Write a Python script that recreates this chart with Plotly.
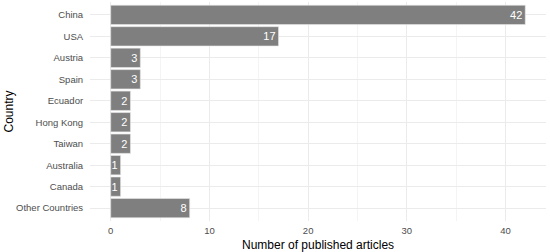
import plotly.graph_objects as go

countries = ["China", "USA", "Austria", "Spain", "Ecuador", "Hong Kong",
             "Taiwan", "Australia", "Canada", "Other Countries"]
articles = [42, 17, 3, 3, 2, 2, 2, 1, 1, 8]

FONT = "Liberation Sans, Arial, sans-serif"

fig = go.Figure(go.Bar(
    x=articles,
    y=countries,
    orientation="h",
    width=0.9,
    marker=dict(color="#7f7f7f", line=dict(color="#e8e8e8", width=0.6)),
    text=[str(v) for v in articles],
    textposition="inside",
    insidetextanchor="end",
    textfont=dict(color="white", size=11, family=FONT),
    constraintext="none",
    cliponaxis=False,
))

fig.update_layout(
    width=550, height=252,
    margin=dict(l=90, r=4, t=2, b=31, autoexpand=False),
    paper_bgcolor="white",
    plot_bgcolor="white",
    font=dict(family=FONT, size=9.5, color="#4d4d4d"),
    showlegend=False,
    uniformtext=dict(minsize=8, mode="show"),
)

fig.update_xaxes(
    range=[-2.1, 44.1],
    tickvals=[0, 10, 20, 30, 40],
    showgrid=True, gridcolor="#ebebeb", gridwidth=1,
    minor=dict(tickvals=[5, 15, 25, 35], showgrid=True, gridcolor="#f4f4f4", gridwidth=0.6),
    zeroline=False, showline=False, automargin=False,
    ticks="outside", ticklen=1, tickcolor="rgba(0,0,0,0)",
    tickfont=dict(size=9.5, color="#4d4d4d"),
)

fig.update_yaxes(
    categoryorder="array",
    categoryarray=countries[::-1],
    range=[-0.6, 9.6],
    showgrid=True, gridcolor="#ebebeb", gridwidth=1,
    zeroline=False, showline=False, automargin=False,
    ticks="outside", ticklen=4, tickcolor="rgba(0,0,0,0)",
    tickfont=dict(size=9.5, color="#4d4d4d"),
)

# axis titles placed as annotations for exact position
fig.add_annotation(text="Number of published articles", xref="paper", yref="paper",
                   x=0.5, y=0, yshift=-15, xanchor="center", yanchor="top",
                   showarrow=False, font=dict(size=12, color="black"))
fig.add_annotation(text="Country", xref="paper", yref="paper",
                   x=0, xshift=-82, y=0.5, textangle=-90,
                   xanchor="center", yanchor="middle",
                   showarrow=False, font=dict(size=12, color="black"))

# drop the default page margin so the figure sits at the window's corner
fig.write_html("out.html", config={"displayModeBar": False},
               post_script="document.body.style.margin='0';")
